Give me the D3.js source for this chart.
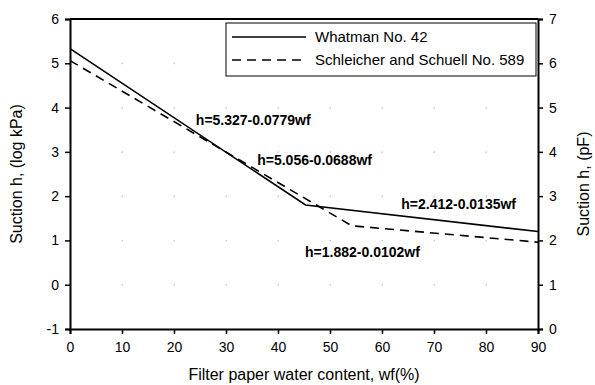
<!DOCTYPE html>
<html>
<head>
<meta charset="utf-8">
<script src="https://cdn.jsdelivr.net/npm/d3@7"></script>
<style>
  body { margin: 0; background: #fff; }
  text { font-family: "Liberation Sans", Arial, sans-serif; fill: #000; }
</style>
</head>
<body>
<svg id="chart" width="595" height="385"></svg>
<script>
// values
const xTicks = [0, 10, 20, 30, 40, 50, 60, 70, 80, 90];
const yTicks = [-1, 0, 1, 2, 3, 4, 5, 6];
const pfTicks = [0, 1, 2, 3, 4, 5, 6, 7];
const whatman = [[0, 5.33], [45.3, 1.80], [90, 1.20]];
const schleicher = [[0, 5.06], [54.2, 1.33], [90, 0.96]];
const seriesNames = ['Whatman No. 42', 'Schleicher and Schuell No. 589'];
const equations = [
  {text: 'h=5.327-0.0779wf', x: 24.2, y: 3.61},
  {text: 'h=5.056-0.0688wf', x: 36.0, y: 2.70},
  {text: 'h=2.412-0.0135wf', x: 63.7, y: 1.71},
  {text: 'h=1.882-0.0102wf', x: 45.2, y: 0.63}
];

const margin = {top: 19, right: 57, bottom: 56, left: 70};
const svg = d3.select('#chart');
const width = 595 - margin.left - margin.right;
const height = 385 - margin.top - margin.bottom;
const g = svg.append('g').attr('transform', `translate(${margin.left},${margin.top})`);

const x = d3.scaleLinear().domain([0, 90]).range([0, width]);
const y = d3.scaleLinear().domain([-1, 6]).range([height, 0]);
const y2 = d3.scaleLinear().domain([0, 7]).range([height, 0]);
const fmt = d => String(d);

// faint dotted grid, barely visible in the scan
g.append('g').selectAll('line')
  .data(yTicks.slice(1, -1))
  .join('line')
  .attr('x1', 0).attr('x2', width)
  .attr('y1', d => y(d)).attr('y2', d => y(d))
  .attr('stroke', '#bbb').attr('stroke-width', 1)
  .attr('stroke-dasharray', '1,51');
g.append('g').selectAll('line')
  .data(xTicks.slice(1, -1))
  .join('line')
  .attr('x1', d => x(d)).attr('x2', d => x(d))
  .attr('y1', 0).attr('y2', height)
  .attr('stroke', '#bbb').attr('stroke-width', 1)
  .attr('stroke-dasharray', '1,43.3');

// axes
const xAxis = g.append('g')
  .attr('transform', `translate(0,${height})`)
  .call(d3.axisBottom(x).tickValues(xTicks).tickFormat(fmt).tickSize(5).tickPadding(8));
const yAxis = g.append('g')
  .call(d3.axisLeft(y).tickValues(yTicks).tickFormat(fmt).tickSize(5).tickPadding(6));
const yAxis2 = g.append('g')
  .attr('transform', `translate(${width},0)`)
  .call(d3.axisRight(y2).tickValues(pfTicks).tickFormat(fmt).tickSize(5).tickPadding(6));
g.append('line')
  .attr('x1', 0).attr('x2', width).attr('y1', 0).attr('y2', 0)
  .attr('stroke', '#000').attr('stroke-width', 2);

[xAxis, yAxis, yAxis2].forEach(a => {
  a.select('.domain').attr('stroke-width', 2);
  a.selectAll('.tick line').attr('stroke-width', 1.5);
  a.selectAll('.tick text')
    .style('font-family', '"Liberation Sans", Arial, sans-serif')
    .style('font-size', '14px');
});

// lines
const line = d3.line().x(d => x(d[0])).y(d => y(d[1]));
g.append('path').datum(whatman)
  .attr('d', line).attr('fill', 'none')
  .attr('stroke', '#000').attr('stroke-width', 1.6);
g.append('path').datum(schleicher)
  .attr('d', line).attr('fill', 'none')
  .attr('stroke', '#000').attr('stroke-width', 1.6)
  .attr('stroke-dasharray', '9,6');

// equation labels
g.selectAll('.eq')
  .data(equations)
  .join('text')
  .attr('class', 'eq')
  .attr('x', d => x(d.x))
  .attr('y', d => y(d.y))
  .style('font-size', '14px')
  .style('font-weight', 'bold')
  .text(d => d.text);

// legend
const legend = svg.append('g').attr('transform', 'translate(226,23)');
legend.append('rect')
  .attr('width', 310).attr('height', 53)
  .attr('fill', '#fff').attr('stroke', '#000').attr('stroke-width', 1);
legend.selectAll('.lg-line')
  .data(seriesNames)
  .join('line')
  .attr('x1', 6).attr('x2', 80)
  .attr('y1', (d, i) => 14 + i * 23).attr('y2', (d, i) => 14 + i * 23)
  .attr('stroke', '#000').attr('stroke-width', 1.6)
  .attr('stroke-dasharray', (d, i) => i ? '9,6' : null);
legend.selectAll('.lg-text')
  .data(seriesNames)
  .join('text')
  .attr('x', 89)
  .attr('y', (d, i) => 19 + i * 23)
  .style('font-size', '15px')
  .text(d => d);

// axis titles
svg.append('text')
  .attr('x', margin.left + width / 2)
  .attr('y', 380)
  .attr('text-anchor', 'middle')
  .style('font-size', '16px')
  .text('Filter paper water content, wf(%)');
svg.append('text')
  .attr('transform', `translate(22,${margin.top + height / 2}) rotate(-90)`)
  .attr('text-anchor', 'middle')
  .style('font-size', '16px')
  .text('Suction h, (log kPa)');
svg.append('text')
  .attr('transform', `translate(589,${margin.top + height / 2 + 10}) rotate(-90)`)
  .attr('text-anchor', 'middle')
  .style('font-size', '16px')
  .text('Suction h, (pF)');
</script>
</body>
</html>
